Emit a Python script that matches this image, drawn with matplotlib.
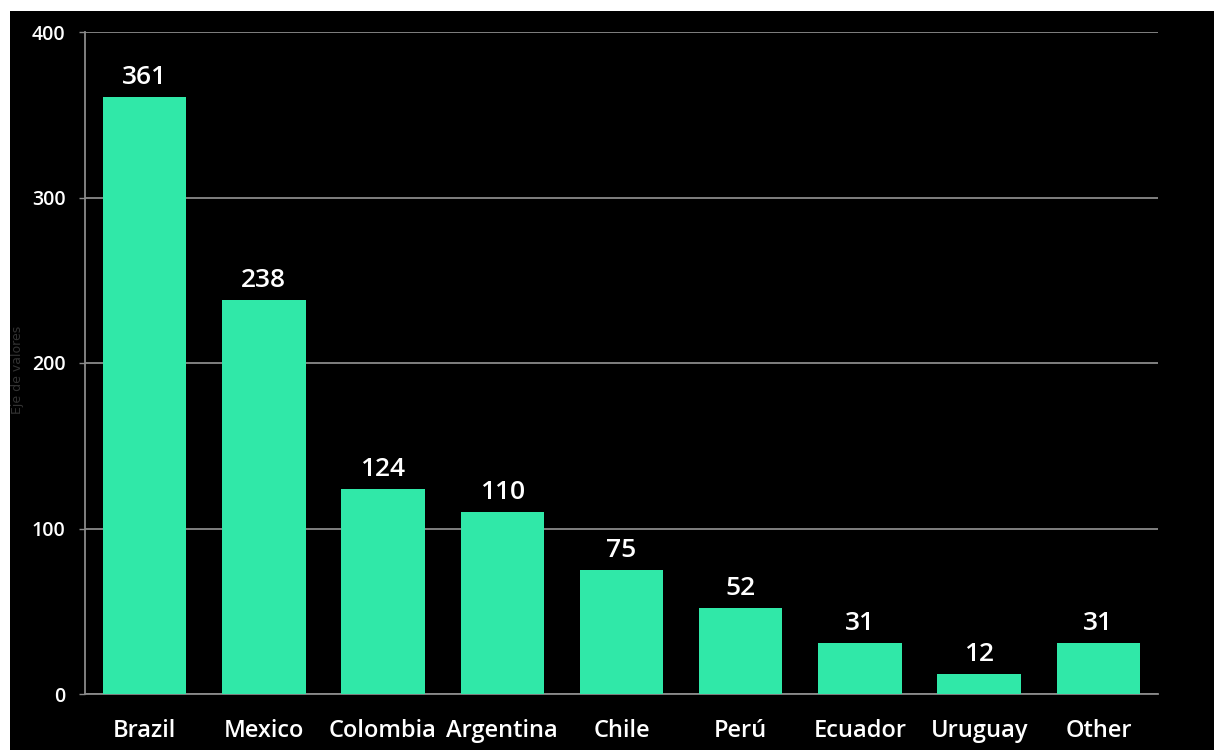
import matplotlib
matplotlib.use("Agg")
import matplotlib.pyplot as plt
from matplotlib.patches import Rectangle

countries = ["Brazil", "Mexico", "Colombia", "Argentina", "Chile", "Perú",
             "Ecuador", "Uruguay", "Other"]
values = [361, 238, 124, 110, 75, 52, 31, 12, 31]
y_ticks = [0, 100, 200, 300, 400]

bar_color = "#30E8A8"
grid_color = "#8a8a8a"

fig = plt.figure(figsize=(12.14, 7.5), dpi=100)
fig.patch.set_facecolor("white")
# black panel with thin white border on top and left
fig.add_artist(Rectangle((10 / 1214, 0), 1, (750 - 11) / 750,
                         transform=fig.transFigure, facecolor="black",
                         edgecolor="none", zorder=0))

ax = fig.add_axes([85 / 1214, 56 / 750, 1073 / 1214, 662 / 750])
ax.set_facecolor("black")

x = range(len(countries))
ax.bar(x, values, width=0.7, color=bar_color, zorder=3)
for i, v in enumerate(values):
    ax.annotate(str(v), (i, v), xytext=(0, 5), textcoords="offset points",
                ha="center", va="bottom", color="white", fontsize=19,
                family="Open Sans", fontweight="semibold")

ax.set_xlim(-0.5, len(countries) - 0.5)
ax.set_ylim(0, 400)
ax.set_yticks(y_ticks)
ax.set_yticklabels([str(t) for t in y_ticks])
ax.set_xticks(list(x))
ax.set_xticklabels(countries)

ax.yaxis.grid(True, color=grid_color, linewidth=1.3, zorder=0)
ax.tick_params(axis="x", length=0, pad=18, labelsize=17, colors="white")
ax.tick_params(axis="y", length=4, width=1, color=grid_color, pad=10,
               labelsize=14, labelcolor="white")
for lbl in ax.get_xticklabels() + ax.get_yticklabels():
    lbl.set_family("Open Sans")
    lbl.set_fontweight("semibold")

for s in ["top", "right"]:
    ax.spines[s].set_visible(False)
ax.spines["left"].set_color(grid_color)
ax.spines["bottom"].set_color(grid_color)
ax.spines["left"].set_linewidth(1.3)
ax.spines["bottom"].set_linewidth(1.3)

ax.set_ylabel("Eje de valores", color="#333333", fontsize=9)
ax.yaxis.set_label_coords(-0.057, 0.49)

fig.savefig("out.png", dpi=100, facecolor=fig.get_facecolor())
